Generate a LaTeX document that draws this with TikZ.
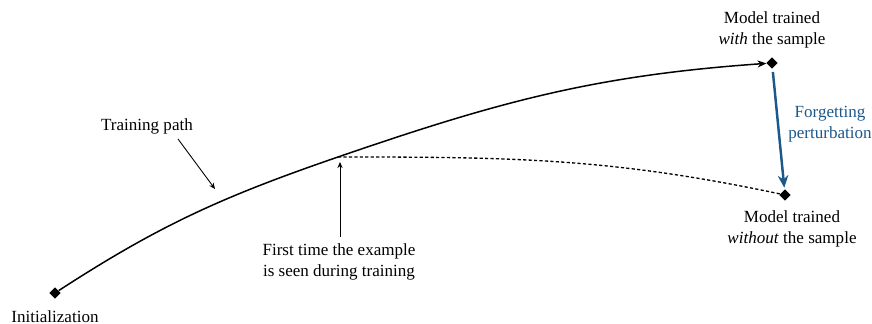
\documentclass[tikz,border=0pt]{standalone}
\usepackage{fontspec}
\setmainfont{Liberation Serif}
\usepackage{tikz}
\usetikzlibrary{arrows.meta,positioning,shapes.geometric}
\usepackage{xcolor}
\definecolor{cB}{RGB}{28,88,138}

\begin{document}
\begin{tikzpicture}[x=0.02cm, y=0.02cm,
  font=\fontsize{9.7}{11.6}\selectfont,
  pt/.style={diamond, fill=black, inner sep=0pt, minimum size=6.5pt},
  lbl/.style={align=center, inner sep=0pt}]
  \useasboundingbox (0,0) rectangle (872,324);
  % points
  \node[pt] (init) at (55,31) {};
  \node[pt] (with) at (772,261) {};
  \node[pt] (without) at (785,129) {};
  \coordinate (branch) at (338,167);
  % training path and the path without the sample
  \draw[line width=0.85pt, -{Stealth[length=5pt,width=4pt]}] (init) to[out=33,in=199] (branch) to[out=19,in=184] (with);
  \draw[line width=0.75pt, dash pattern=on 1.8pt off 1.3pt] (branch) to[out=0,in=168] (without);
  % forgetting perturbation
  \draw[cB, line width=1.4pt, -{Stealth[length=7pt,width=6pt]}, shorten <=2pt, shorten >=1pt] (with) -- (without);
  % labels
  \node[lbl] (initlbl) at (55,7) {Initialization};
  \node[lbl] (withlbl) at (772,294) {Model trained\\\textit{with} the sample};
  \node[lbl] (withoutlbl) at (792,95) {Model trained\\\textit{without} the sample};
  \node[lbl, text=cB] (forget) at (830,200) {Forgetting\\perturbation};
  \node[lbl] (tplbl) at (147,198) {Training path};
  \node[lbl] (first) at (339,62) {First time the example\\is seen during training};
  % pointers
  \coordinate (tpfrom) at (178,185);
  \coordinate (tpto) at (215,135);
  \draw[line width=0.5pt, -{Stealth[length=3.5pt,width=3pt]}] (tpfrom) -- (tpto);
  \coordinate (firstfrom) at (340,87);
  \coordinate (firstto) at (340,162);
  \draw[line width=0.5pt, -{Stealth[length=3.5pt,width=3pt]}] (firstfrom) -- (firstto);
\end{tikzpicture}
\end{document}
